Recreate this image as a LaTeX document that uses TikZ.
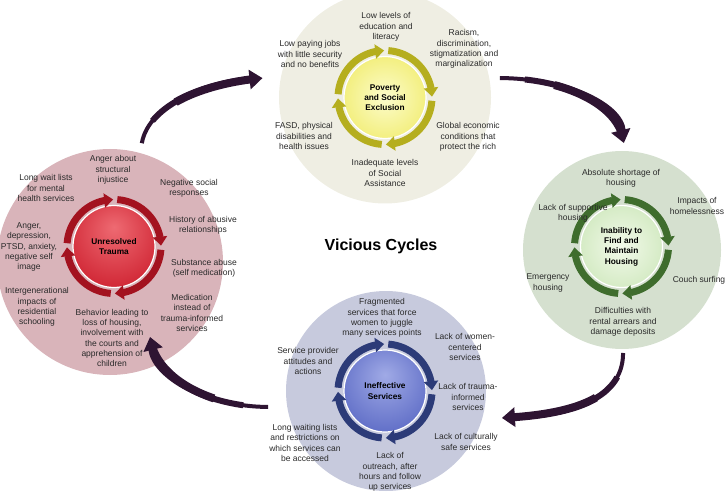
\documentclass[tikz,border=0pt]{standalone}
\usepackage{fontspec}
\setmainfont{Liberation Sans}
\usetikzlibrary{arrows.meta,bending,calc}
\definecolor{povout}{HTML}{EFEEE3}
\definecolor{traout}{HTML}{D9B4BA}
\definecolor{housout}{HTML}{D5E0CF}
\definecolor{servout}{HTML}{C7CADD}
\definecolor{povring}{HTML}{B5AE1E}
\definecolor{traring}{HTML}{A3121F}
\definecolor{housring}{HTML}{3F6D2D}
\definecolor{servring}{HTML}{2C3B78}
\definecolor{bigc}{HTML}{2E1432}
\definecolor{povA}{HTML}{FCFCCB}
\definecolor{povB}{HTML}{F3EF80}
\definecolor{povC}{HTML}{E0D933}
\definecolor{traA}{HTML}{EE6A72}
\definecolor{traB}{HTML}{D22A38}
\definecolor{traC}{HTML}{B3101F}
\definecolor{housA}{HTML}{F2F9EA}
\definecolor{housB}{HTML}{D5EBC5}
\definecolor{housC}{HTML}{A9CF8F}
\definecolor{servA}{HTML}{A0AAE6}
\definecolor{servB}{HTML}{6270C8}
\definecolor{servC}{HTML}{33429E}
\definecolor{txt}{HTML}{2A2A2A}
\pgfdeclareradialshading{povsh}{\pgfpoint{0bp}{0bp}}{color(0bp)=(povA); color(25bp)=(povB); color(50bp)=(povC)}
\pgfdeclareradialshading{trash}{\pgfpoint{0bp}{12bp}}{color(0bp)=(traA); color(30bp)=(traB); color(62bp)=(traC)}
\pgfdeclareradialshading{housh}{\pgfpoint{0bp}{0bp}}{color(0bp)=(housA); color(25bp)=(housB); color(50bp)=(housC)}
\pgfdeclareradialshading{sersh}{\pgfpoint{0bp}{10bp}}{color(0bp)=(servA); color(30bp)=(servB); color(60bp)=(servC)}
\tikzset{
  lab/.style={font=\fontsize{8.5}{10.3}\selectfont, align=center, text=txt, inner sep=0pt},
  core/.style={circle, minimum size=82pt, inner sep=0pt, draw=white, line width=1.2pt,
    font=\bfseries\fontsize{8.3}{10.3}\selectfont, align=center, text=black},
  outer/.style={circle, inner sep=0pt},
  ringseg/.style={line width=7pt, -{Triangle[width=14pt,length=9pt]}},
  bigbody/.style={draw=bigc, line cap=butt},
}
\newcommand\vcArrow[1]{%
  \draw[bigbody, line width=4pt, shorten >=12pt] #1;
  \draw[bigbody, line width=6pt, shorten >=12pt, dash pattern=on 0pt off 25pt on 2000pt] #1;
  \draw[bigbody, line width=8pt, dash pattern=on 0pt off 55pt on 2000pt, -{Triangle[width=19pt,length=13pt]}] #1;
}
\begin{document}
\begin{tikzpicture}[x=1pt,y=1pt]
\useasboundingbox (0,0) rectangle (727,-494);
% outer circles
\node[outer, fill=povout, minimum size=212pt] (povO) at (385,-97.5) {};
\node[outer, fill=traout, minimum size=226pt] (traO) at (110,-262) {};
\node[outer, fill=housout, minimum size=198pt] (houO) at (622,-250) {};
\node[outer, fill=servout, minimum size=200pt] (serO) at (386,-391) {};
% core discs
\node[core, shading=povsh] (pov) at (385,-97.5) {Poverty\\and Social\\Exclusion};
\node[core, shading=trash] (tra) at (114,-246.5) {Unresolved\\Trauma};
\node[core, shading=housh] (hou) at (621.5,-246.5) {Inability to\\Find and\\Maintain\\Housing};
\node[core, shading=sersh] (ser) at (385,-391) {Ineffective\\Services};
% rings
\foreach \n/\col in {pov/povring, tra/traring, hou/housring, ser/servring} {
  \foreach \c [evaluate=\c as \s using \c+86, evaluate=\c as \e using \c+1] in {90,0,-90,-180}
    \draw[ringseg, draw=\col] (\n.center) ++(\s:47) arc[start angle=\s, end angle=\e, radius=47];
}
% title
\node[font=\bfseries\fontsize{16}{18}\selectfont, text=black] (title) at (381,-246) {Vicious Cycles};
% poverty labels
\node[lab] (p1) at (386,-27) {Low levels of\\education and\\literacy};
\node[lab] (p2) at (464,-49) {Racism,\\discrimination,\\stigmatization and\\marginalization};
\node[lab] (p3) at (310,-54) {Low paying jobs\\with little security\\and no benefits};
\node[lab] (p4) at (304,-136) {FASD, physical\\disabilities and\\health issues};
\node[lab] (p5) at (468,-137) {Global economic\\conditions that\\protect the rich};
\node[lab] (p6) at (385,-173) {Inadequate levels\\of Social\\Assistance};
% trauma labels
\node[lab] (t1) at (113,-170) {Anger about\\structural\\injustice};
\node[lab] (t2) at (46,-188) {Long wait lists\\for mental\\health services};
\node[lab] (t3) at (189,-188) {Negative social\\responses};
\node[lab] (t4) at (203,-225) {History of abusive\\relationships};
\node[lab] (t5) at (29,-247) {Anger,\\depression,\\PTSD, anxiety,\\negative self\\image};
\node[lab] (t6) at (204,-268) {Substance abuse\\(self medication)};
\node[lab] (t7) at (37,-307) {Intergenerational\\impacts of\\residential\\schooling};
\node[lab] (t8) at (192,-313) {Medication\\instead of\\trauma-informed\\services};
\node[lab] (t9) at (112,-338) {Behavior leading to\\loss of housing,\\involvement with\\the courts and\\apprehension of\\children};
% housing labels
\node[lab] (h1) at (621,-178) {Absolute shortage of\\housing};
\node[lab] (h2) at (573,-213) {Lack of supportive\\housing};
\node[lab] (h3) at (697,-206) {Impacts of\\homelessness};
\node[lab] (h4) at (548,-283) {Emergency\\housing};
\node[lab] (h5) at (699,-280) {Couch surfing};
\node[lab] (h6) at (623,-322) {Difficulties with\\rental arrears and\\damage deposits};
% services labels
\node[lab] (s1) at (382,-318) {Fragmented\\services that force\\women to juggle\\many services points};
\node[lab] (s2) at (465,-347) {Lack of women-\\centered\\services};
\node[lab] (s3) at (308,-361) {Service provider\\attitudes and\\actions};
\node[lab] (s4) at (468,-397) {Lack of trauma-\\informed\\services};
\node[lab] (s5) at (305,-443) {Long waiting lists\\and restrictions on\\which services can\\be accessed};
\node[lab] (s6) at (466,-442) {Lack of culturally\\safe services};
\node[lab] (s7) at (390,-472) {Lack of\\outreach, after\\hours and follow\\up services};
% big arrows
\vcArrow{($(traO.center)+(75:123)$) .. controls +(80:40) and +(185:55) .. ($(povO.center)+(171:124)$)}
\vcArrow{($(povO.center)+(9.6:116.6)$) .. controls +(0:60) and +(95:40) .. ($(houO.center)+(89:107)$)}
\vcArrow{($(houO.center)+(-89.4:103)$) .. controls +(-90:50) and +(3:60) .. ($(serO.center)+(-13.1:119)$)}
\vcArrow{($(serO.center)+(187.7:119)$) .. controls +(180:60) and +(-84:40) .. ($(traO.center)+(-61.9:85)$)}
\end{tikzpicture}
\end{document}
